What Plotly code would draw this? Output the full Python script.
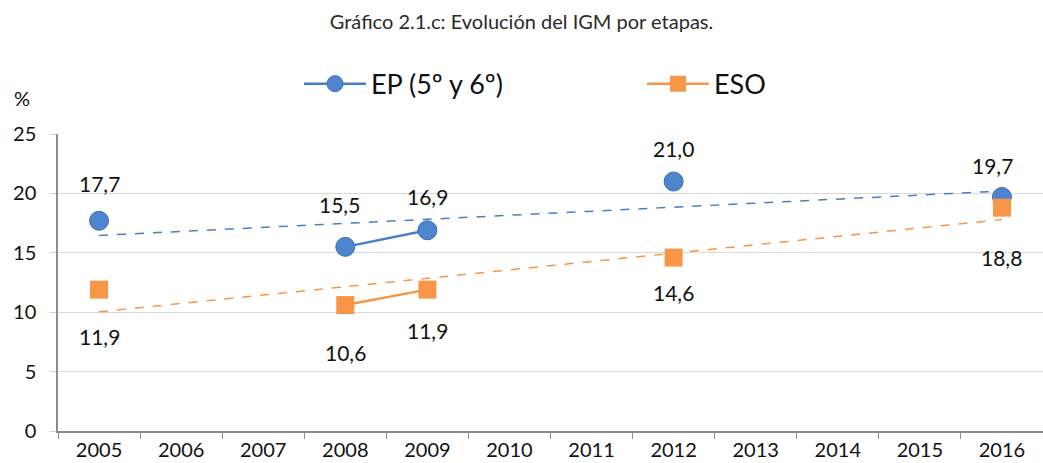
import numpy as np
import plotly.graph_objects as go

years = ["2005", "2006", "2007", "2008", "2009", "2010", "2011", "2012", "2013", "2014", "2015", "2016"]
ep_values = [17.7, None, None, 15.5, 16.9, None, None, 21.0, None, None, None, 19.7]
eso_values = [11.9, None, None, 10.6, 11.9, None, None, 14.6, None, None, None, 18.8]
y_ticks = [0, 5, 10, 15, 20, 25]

BLUE = "#4E85CF"
BLUE_LINE = "#4A7EC4"
BLUE_EDGE = "#3E6FAE"
ORANGE = "#F79646"
FONT = "Lato"

# per-label vertical offsets (px) of data labels
ep_shift = [-37, 0, 0, -42, -34, 0, 0, -33, 0, 0, 0, -31]
ep_xshift = [0, 0, 0, -6, 0, 0, 0, 0, 0, 0, 0, -9]
eso_shift = [47, 0, 0, 47, 41, 0, 0, 35, 0, 0, 0, 50]


def trend(values):
    idx = np.array([i + 1 for i, v in enumerate(values) if v is not None], float)
    vals = np.array([v for v in values if v is not None], float)
    slope, inter = np.polyfit(idx, vals, 1)
    xs = np.arange(1, len(values) + 1)
    return [float(v) for v in (slope * xs + inter)]


fig = go.Figure()

fig.add_trace(go.Scatter(x=years, y=trend(ep_values), mode="lines",
                         line=dict(color=BLUE_LINE, width=1.5, dash="dash"),
                         showlegend=False, hoverinfo="skip"))
fig.add_trace(go.Scatter(x=years, y=trend(eso_values), mode="lines",
                         line=dict(color=ORANGE, width=1.5, dash="dash"),
                         showlegend=False, hoverinfo="skip"))

fig.add_trace(go.Scatter(x=years, y=ep_values, mode="lines+markers", name="EP (5º y 6º)",
                         connectgaps=False,
                         line=dict(color=BLUE_LINE, width=2.5),
                         marker=dict(symbol="circle", size=19, color=BLUE,
                                     line=dict(color=BLUE_EDGE, width=1))))
fig.add_trace(go.Scatter(x=years, y=eso_values, mode="lines+markers", name="ESO",
                         connectgaps=False,
                         line=dict(color=ORANGE, width=2.5),
                         marker=dict(symbol="square", size=18, color=ORANGE,
                                     line=dict(color=ORANGE, width=0))))


def fmt(v):
    return f"{v:.1f}".replace(".", ",")


for i, v in enumerate(ep_values):
    if v is not None:
        fig.add_annotation(x=i, y=v, text=fmt(v), showarrow=False,
                           yshift=-ep_shift[i], xshift=ep_xshift[i],
                           font=dict(family=FONT, size=21, color="#111111"))
for i, v in enumerate(eso_values):
    if v is not None:
        fig.add_annotation(x=i, y=v, text=fmt(v), showarrow=False,
                           yshift=-eso_shift[i],
                           font=dict(family=FONT, size=21, color="#111111"))

fig.add_annotation(xref="paper", yref="paper", x=-0.037, y=1.12, text="%",
                   showarrow=False, xanchor="center", yanchor="middle",
                   font=dict(family=FONT, size=20, color="#111111"))

fig.update_layout(
    width=1043, height=463,
    margin=dict(l=58, r=0, t=134, b=32, autoexpand=False),
    paper_bgcolor="white", plot_bgcolor="white",
    title=dict(text="Gráfico 2.1.c: Evolución del IGM por etapas.",
               x=0.5, xanchor="center", y=0.953, yanchor="middle",
               font=dict(family=FONT, size=20, color="#2a2a2a")),
    legend=dict(orientation="h", x=0.2447, xanchor="left", y=1.168, yanchor="middle",
                font=dict(family=FONT, size=27, color="#111111"),
                itemwidth=62, entrywidth=266, bgcolor="rgba(0,0,0,0)"),
    showlegend=True,
)

fig.update_xaxes(type="category", categoryorder="array", categoryarray=years,
                 range=[-0.5, len(years) - 0.5], autorange=False, automargin=False,
                 tickson="boundaries", ticks="outside", ticklen=6, tickcolor="#8c8c8c",
                 showline=True, linecolor="#8c8c8c", linewidth=1.5,
                 showgrid=False, zeroline=False,
                 tickfont=dict(family=FONT, size=20, color="#111111"))
fig.update_yaxes(range=[0, 25], tickvals=y_ticks, ticks="outside", ticklen=6,
                 automargin=False, ticklabelstandoff=10,
                 tickcolor="#d0d0d0", showline=True, linecolor="#8c8c8c", linewidth=1.5,
                 showgrid=True, gridcolor="#d9d9d9", gridwidth=1.2, zeroline=False,
                 tickfont=dict(family=FONT, size=20, color="#111111"))

fig.write_html("out.html", config={"displayModeBar": False},
               post_script="document.body.style.margin='0px';")
